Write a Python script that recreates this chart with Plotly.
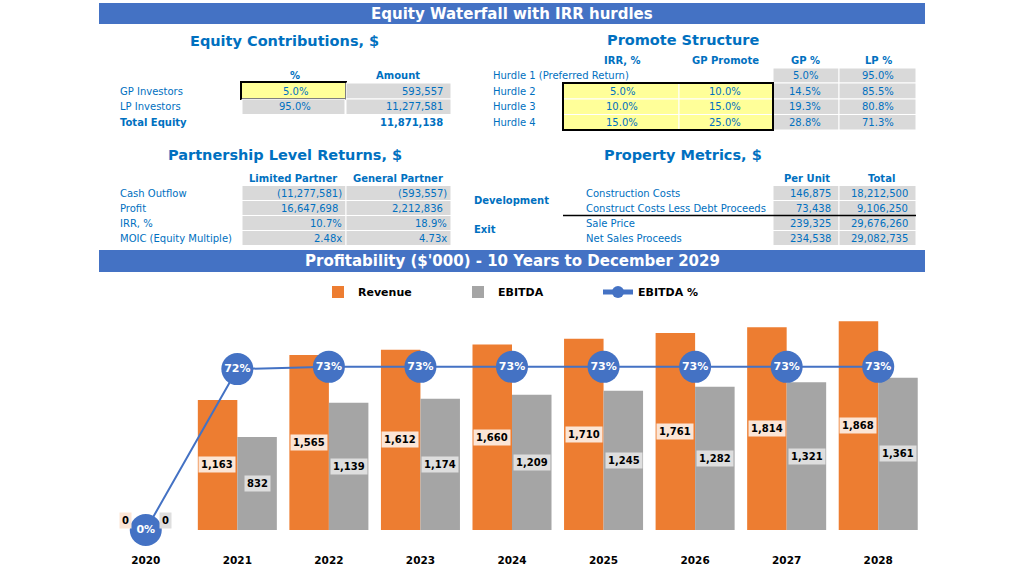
import plotly.graph_objects as go

W, H = 1024, 577
FONT = "DejaVu Sans"
BLUE_TXT = "#0070C0"
BANNER = "#4472C4"
ORANGE = "#ED7D31"
GRAY = "#A5A5A5"
LINE_BLUE = "#4472C4"
CELL_GRAY = "#D9D9D9"
YELLOW = "#FFFF99"

# ---------------- data ----------------
years = ["2020", "2021", "2022", "2023", "2024", "2025", "2026", "2027", "2028"]
revenue = [0, 1163, 1565, 1612, 1660, 1710, 1761, 1814, 1868]
ebitda = [0, 832, 1139, 1174, 1209, 1245, 1282, 1321, 1361]
ebitda_pct = [0.0, 0.72, 0.73, 0.73, 0.73, 0.73, 0.73, 0.73, 0.73]

eq_rows = ["GP Investors", "LP Investors"]
eq_pct = ["5.0%", "95.0%"]
eq_amount = ["593,557", "11,277,581"]
eq_total = "11,871,138"

promote_rows = ["Hurdle 1 (Preferred Return)", "Hurdle 2", "Hurdle 3", "Hurdle 4"]
promote_irr = ["", "5.0%", "10.0%", "15.0%"]
promote_gp_promote = ["", "10.0%", "15.0%", "25.0%"]
promote_gp_pct = ["5.0%", "14.5%", "19.3%", "28.8%"]
promote_lp_pct = ["95.0%", "85.5%", "80.8%", "71.3%"]

ret_rows = ["Cash Outflow", "Profit", "IRR, %", "MOIC (Equity Multiple)"]
ret_lp = ["(11,277,581)", "16,647,698", "10.7%", "2.48x"]
ret_gp = ["(593,557)", "2,212,836", "18.9%", "4.73x"]

prop_groups = ["Development", "Exit"]
prop_rows = ["Construction Costs", "Construct Costs Less Debt Proceeds", "Sale Price", "Net Sales Proceeds"]
prop_per_unit = ["146,875", "73,438", "239,325", "234,538"]
prop_total = ["18,212,500", "9,106,250", "29,676,260", "29,082,735"]

# ---------------- helpers ----------------
shapes = []
annotations = []


def px(x):
    return x / W


def py(y):
    return 1 - y / H


def text(x, y, s, size=10, color=BLUE_TXT, bold=False, anchor="left"):
    annotations.append(dict(
        x=px(x), y=py(y), xref="paper", yref="paper", text=s, showarrow=False,
        xanchor=anchor, yanchor="middle", borderpad=0,
        font=dict(family=FONT, size=size, color=color, weight="bold" if bold else "normal")))


def rect(x0, y0, x1, y1, fill, line_color=None, lw=0):
    shapes.append(dict(
        type="rect", xref="paper", yref="paper", x0=px(x0), x1=px(x1), y0=py(y1), y1=py(y0),
        fillcolor=fill, line=dict(color=line_color if line_color else fill, width=lw), layer="above"))


def hline(x0, x1, y, color, lw):
    shapes.append(dict(type="line", xref="paper", yref="paper", x0=px(x0), x1=px(x1),
                       y0=py(y), y1=py(y), line=dict(color=color, width=lw), layer="above"))


def num_right(cell_right, y, s, bold=False):
    off = 6 if s and s[-1].isdigit() else 2
    text(cell_right - off, y, s, bold=bold, anchor="right")


# ---------------- banners ----------------
rect(99, 3, 925, 24, BANNER)
text(512, 13.5, "Equity Waterfall with IRR hurdles", size=15, color="white", bold=True, anchor="center")
rect(99, 250, 925, 272, BANNER)
text(512, 261, "Profitability ($'000) - 10 Years to December 2029", size=15, color="white", bold=True, anchor="center")

# ---------------- Equity Contributions ----------------
text(284, 41, "Equity Contributions, $", size=14.5, bold=True, anchor="center")
text(295, 75, "%", bold=True, anchor="center")
text(398, 75, "Amount", bold=True, anchor="center")
eq_bounds = [83, 99, 114.5]
for i, lab in enumerate(eq_rows):
    y0, y1 = eq_bounds[i], eq_bounds[i + 1]
    yc = (y0 + y1) / 2
    if i == 0:
        rect(241, y0 - 1, 346, y1, YELLOW, "black", 2)
    else:
        rect(242, y0, 345, y1, CELL_GRAY, "white", 1)
    rect(346, y0, 451, y1, CELL_GRAY, "white", 1)
    text(119, yc, lab)
    text(295, yc, eq_pct[i], anchor="center")
    num_right(450, yc, eq_amount[i])
text(119, 122.5, "Total Equity", bold=True)
num_right(450, 122.5, eq_total, bold=True)

# ---------------- Promote Structure ----------------
text(683, 40, "Promote Structure", size=14.5, bold=True, anchor="center")
text(622, 60, "IRR, %", bold=True, anchor="center")
text(725, 60, "GP Promote", bold=True, anchor="center")
text(805, 60, "GP %", bold=True, anchor="center")
text(878, 60, "LP %", bold=True, anchor="center")
pr_bounds = [68, 83, 99, 114.5, 130]
for i, lab in enumerate(promote_rows):
    y0, y1 = pr_bounds[i], pr_bounds[i + 1]
    yc = (y0 + y1) / 2
    rect(773, y0, 839, y1, CELL_GRAY, "white", 1)
    rect(839, y0, 916, y1, CELL_GRAY, "white", 1)
    if i > 0:
        rect(563, y0, 679, y1, YELLOW, "white", 1)
        rect(679, y0, 773, y1, YELLOW, "white", 1)
    text(492, yc, lab)
    if promote_irr[i]:
        text(622, yc, promote_irr[i], anchor="center")
    if promote_gp_promote[i]:
        text(725, yc, promote_gp_promote[i], anchor="center")
    text(805, yc, promote_gp_pct[i], anchor="center")
    text(878, yc, promote_lp_pct[i], anchor="center")
rect(563, 83, 773, 130, "rgba(0,0,0,0)", "black", 2)

# ---------------- Partnership Level Returns ----------------
text(285, 155, "Partnership Level Returns, $", size=14.5, bold=True, anchor="center")
text(293, 178, "Limited Partner", bold=True, anchor="center")
text(398, 178, "General Partner", bold=True, anchor="center")
rb = [185.5, 200.5, 215.5, 230.5, 245.5]
for i, lab in enumerate(ret_rows):
    y0, y1 = rb[i], rb[i + 1]
    yc = (y0 + y1) / 2
    rect(242, y0, 346, y1, CELL_GRAY, "white", 1)
    rect(346, y0, 451, y1, CELL_GRAY, "white", 1)
    text(119, yc, lab)
    num_right(345, yc, ret_lp[i])
    num_right(450, yc, ret_gp[i])

# ---------------- Property Metrics ----------------
text(683, 155, "Property Metrics, $", size=14.5, bold=True, anchor="center")
text(807, 178, "Per Unit", bold=True, anchor="center")
text(881, 178, "Total", bold=True, anchor="center")
text(473, 201, prop_groups[0], bold=True)
text(473, 230, prop_groups[1], bold=True)
for i, lab in enumerate(prop_rows):
    y0, y1 = rb[i], rb[i + 1]
    yc = (y0 + y1) / 2
    rect(773, y0, 839, y1, CELL_GRAY, "white", 1)
    rect(839, y0, 916, y1, CELL_GRAY, "white", 1)
    text(585, yc, lab)
    num_right(838, yc, prop_per_unit[i])
    num_right(915, yc, prop_total[i])
hline(563, 916, 215.5, "black", 1.5)

# ---------------- chart ----------------
fig = go.Figure()
fig.add_trace(go.Bar(x=years, y=revenue, name="Revenue", marker=dict(color=ORANGE, line=dict(width=0))))
fig.add_trace(go.Bar(x=years, y=ebitda, name="EBITDA", marker=dict(color=GRAY, line=dict(width=0))))
fig.add_trace(go.Scatter(
    x=years, y=ebitda_pct, name="EBITDA %", yaxis="y2", mode="lines+markers+text",
    line=dict(color=LINE_BLUE, width=2), marker=dict(size=32, color=LINE_BLUE),
    texttemplate="%{y:.0%}", textposition="middle center",
    textfont=dict(family=FONT, size=11, color="white", weight="bold"), cliponaxis=False))

# bar value labels, placed at the category index on the category axis
for i, v in enumerate(revenue):
    annotations.append(dict(x=i, y=v / 2, xref="x", yref="y", text=f"{v:,}", showarrow=False,
                            xshift=-20, yshift=10 if v == 0 else 0, bgcolor="#FBE5D6", borderpad=2,
                            font=dict(family=FONT, size=10, color="black", weight="bold")))
for i, v in enumerate(ebitda):
    annotations.append(dict(x=i, y=v / 2, xref="x", yref="y", text=f"{v:,}", showarrow=False,
                            xshift=20, yshift=10 if v == 0 else 0, bgcolor="#DEDEDE", borderpad=2,
                            font=dict(family=FONT, size=10, color="black", weight="bold")))

fig.update_layout(
    width=W, height=H, margin=dict(l=0, r=0, t=0, b=0),
    paper_bgcolor="white", plot_bgcolor="white",
    barmode="group", bargap=0.137, bargroupgap=0,
    xaxis=dict(type="category", range=[-0.5, len(years) - 0.5], domain=[px(100), px(924)],
               showgrid=False, zeroline=False, showline=False,
               ticks="", ticklabelstandoff=22,
               tickfont=dict(family=FONT, size=10.5, color="black", weight="bold")),
    yaxis=dict(domain=[py(530), py(300)], range=[0, 2057], visible=False),
    yaxis2=dict(overlaying="y", range=[0, 1.029], visible=False),
    showlegend=True,
    legend=dict(orientation="h", x=px(318), xanchor="left", y=py(292), yanchor="middle",
                entrywidth=95, itemsizing="constant",
                font=dict(family=FONT, size=11, color="black", weight="bold"),
                bgcolor="rgba(0,0,0,0)"),
    shapes=shapes, annotations=annotations,
)

fig.write_html("out.html")
